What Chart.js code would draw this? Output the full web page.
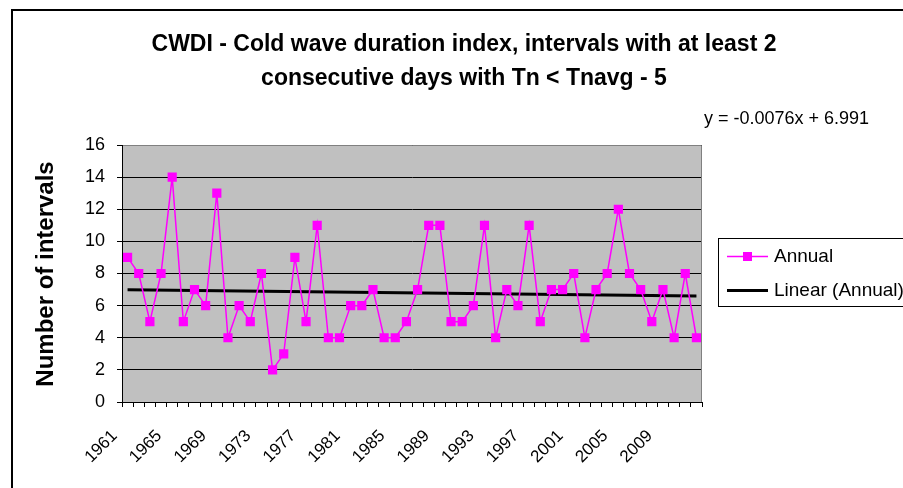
<!DOCTYPE html>
<html>
<head>
<meta charset="utf-8">
<script src="https://cdn.jsdelivr.net/npm/chart.js@4.4.1/dist/chart.umd.min.js"></script>
<style>
  html, body { margin: 0; padding: 0; background: #fff; }
  #wrap { width: 903px; height: 488px; }
</style>
</head>
<body>
<div id="wrap"><canvas id="cwdiChart" width="903" height="488"></canvas></div>
<script>
const years = [1961, 1962, 1963, 1964, 1965, 1966, 1967, 1968, 1969, 1970,
               1971, 1972, 1973, 1974, 1975, 1976, 1977, 1978, 1979, 1980,
               1981, 1982, 1983, 1984, 1985, 1986, 1987, 1988, 1989, 1990,
               1991, 1992, 1993, 1994, 1995, 1996, 1997, 1998, 1999, 2000,
               2001, 2002, 2003, 2004, 2005, 2006, 2007, 2008, 2009, 2010,
               2011, 2012];
const annual = [9, 8, 5, 8, 14, 5, 7, 6, 13, 4,
                6, 5, 8, 2, 3, 9, 5, 11, 4, 4,
                6, 6, 7, 4, 4, 5, 7, 11, 11, 5,
                5, 6, 11, 4, 7, 6, 11, 5, 7, 7,
                8, 4, 7, 8, 12, 8, 7, 5, 7, 4,
                8, 4];
// linear trend end points, from y = -0.0076x + 6.991 at x = 1 and x = 52
const trendEnds = [6.983, 6.596];
const titleLines = ['CWDI - Cold wave duration index, intervals with at least 2',
                    'consecutive days with Tn < Tnavg - 5'];
const yTitle = 'Number of intervals';
const equation = 'y = -0.0076x + 6.991';
const seriesNames = ['Annual', 'Linear (Annual)'];

const FONT = "'Liberation Sans', Arial, sans-serif";
const MAGENTA = '#FF00FF';

const trend = years.map((y, i) => {
    if (i === 0) return trendEnds[0];
    if (i === years.length - 1) return trendEnds[1];
    return null;
});

const excelLook = {
    id: 'excelLook',
    beforeDraw(chart) {
        const {ctx, chartArea: a} = chart;
        ctx.save();
        ctx.fillStyle = '#fff';
        ctx.fillRect(0, 0, chart.width, chart.height);
        ctx.fillStyle = '#C0C0C0';
        ctx.fillRect(a.left, a.top, a.right - a.left, a.bottom - a.top);
        ctx.restore();
    },
    afterDraw(chart) {
        const {ctx, chartArea: a} = chart;
        ctx.save();

        // plot area border, top and right
        ctx.strokeStyle = '#808080';
        ctx.lineWidth = 1;
        ctx.beginPath();
        ctx.moveTo(a.left + 1, a.top + 0.5);
        ctx.lineTo(a.right - 0.5, a.top + 0.5);
        ctx.lineTo(a.right - 0.5, a.bottom);
        ctx.stroke();

        // chart frame
        ctx.strokeStyle = '#000';
        ctx.lineWidth = 2;
        ctx.strokeRect(12, 10, 1000, 1000);

        // title
        ctx.fillStyle = '#000';
        ctx.font = 'bold 23px ' + FONT;
        ctx.textAlign = 'center';
        ctx.textBaseline = 'middle';
        ctx.fillText(titleLines[0], 464, 45);
        ctx.fillText(titleLines[1], 464, 79);

        // y axis title
        ctx.save();
        ctx.font = 'bold 24px ' + FONT;
        ctx.translate(46, 274);
        ctx.rotate(-Math.PI / 2);
        ctx.fillText(yTitle, 0, 0);
        ctx.restore();

        // trend equation
        ctx.font = '18px ' + FONT;
        ctx.textAlign = 'left';
        ctx.fillText(equation, 704, 119);

        // legend
        ctx.lineWidth = 1;
        ctx.strokeRect(718.5, 238.5, 260, 68);
        ctx.strokeStyle = MAGENTA;
        ctx.lineWidth = 1.5;
        ctx.beginPath();
        ctx.moveTo(727, 256.5);
        ctx.lineTo(768, 256.5);
        ctx.stroke();
        ctx.fillStyle = MAGENTA;
        ctx.fillRect(743, 252, 9, 9);
        ctx.strokeStyle = '#000';
        ctx.lineWidth = 3;
        ctx.beginPath();
        ctx.moveTo(727, 290.5);
        ctx.lineTo(768, 290.5);
        ctx.stroke();
        ctx.fillStyle = '#000';
        ctx.font = '19px ' + FONT;
        ctx.fillText(seriesNames[0], 774, 257);
        ctx.fillText(seriesNames[1], 774, 291);

        ctx.restore();
    }
};

new Chart(document.getElementById('cwdiChart'), {
    type: 'line',
    data: {
        labels: years,
        datasets: [{
            label: seriesNames[0],
            data: annual,
            borderColor: MAGENTA,
            backgroundColor: MAGENTA,
            borderWidth: 1.5,
            pointStyle: 'rect',
            pointRadius: 6.5,
            pointBorderWidth: 0,
            tension: 0
        }, {
            label: seriesNames[1],
            data: trend,
            borderColor: '#000',
            borderWidth: 3,
            pointRadius: 0,
            spanGaps: true
        }]
    },
    options: {
        responsive: false,
        animation: false,
        devicePixelRatio: 1,
        layout: { padding: { top: 145, right: 201, bottom: 0, left: 0 } },
        plugins: {
            legend: { display: false },
            tooltip: { enabled: false },
            title: { display: false }
        },
        scales: {
            x: {
                type: 'category',
                offset: true,
                grid: { offset: true, drawOnChartArea: false, drawTicks: true, tickLength: 5, color: '#000' },
                border: { color: '#000', width: 1 },
                ticks: {
                    autoSkip: false,
                    minRotation: 45,
                    maxRotation: 45,
                    padding: 19,
                    labelOffset: -13,
                    color: '#000',
                    font: { family: FONT, size: 17 },
                    callback: (v, i) => (i % 4 === 0 ? years[i] : '')
                },
                afterFit(scale) { scale.height = 86; }
            },
            y: {
                min: 0,
                max: 16,
                grid: { color: '#000', tickLength: 5, drawTicks: true },
                border: { color: '#000', width: 1 },
                ticks: {
                    stepSize: 2,
                    padding: 12,
                    color: '#000',
                    font: { family: FONT, size: 18 }
                },
                afterFit(scale) { scale.width = 122; }
            }
        }
    },
    plugins: [excelLook]
});
</script>
</body>
</html>
